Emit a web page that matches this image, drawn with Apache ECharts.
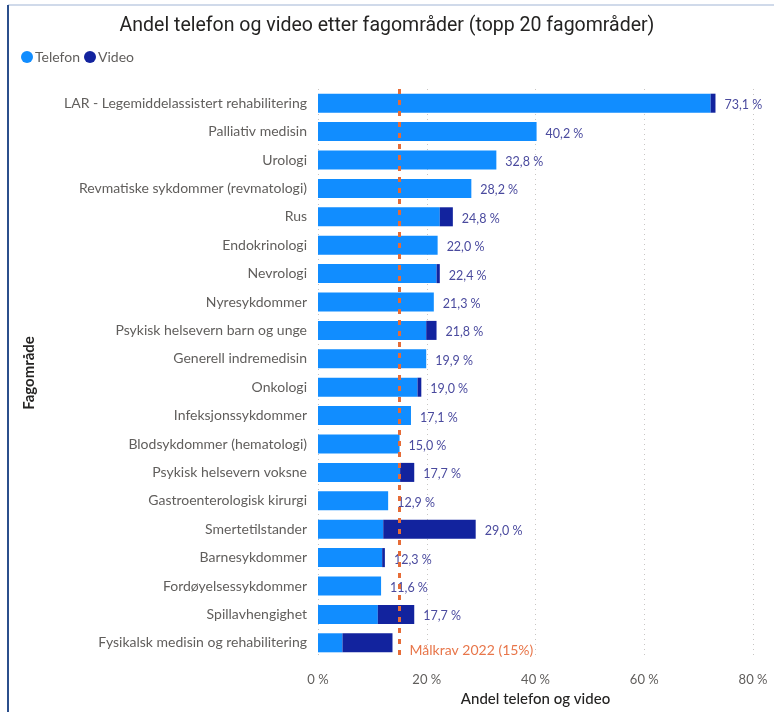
<!DOCTYPE html>
<html>
<head>
<meta charset="utf-8">
<script src="https://cdn.jsdelivr.net/npm/echarts@6/dist/echarts.min.js"></script>
<style>
  html, body { margin: 0; padding: 0; background: #fff; }
  #chart { width: 774px; height: 712px; }
</style>
</head>
<body>
<div id="chart"></div>
<script>
// fagområder, øverst først
const categories = [
  'LAR - Legemiddelassistert rehabilitering',
  'Palliativ medisin',
  'Urologi',
  'Revmatiske sykdommer (revmatologi)',
  'Rus',
  'Endokrinologi',
  'Nevrologi',
  'Nyresykdommer',
  'Psykisk helsevern barn og unge',
  'Generell indremedisin',
  'Onkologi',
  'Infeksjonssykdommer',
  'Blodsykdommer (hematologi)',
  'Psykisk helsevern voksne',
  'Gastroenterologisk kirurgi',
  'Smertetilstander',
  'Barnesykdommer',
  'Fordøyelsessykdommer',
  'Spillavhengighet',
  'Fysikalsk medisin og rehabilitering'
];
const telefon = [72.2, 40.2, 32.8, 28.2, 22.4, 22.0, 21.8, 21.3, 19.9, 19.9, 18.3, 17.1, 15.0, 15.1, 12.9, 12.0, 11.8, 11.6, 11.0, 4.5];
const video   = [0.9, 0.0, 0.0, 0.0, 2.4, 0.0, 0.6, 0.0, 1.9, 0.0, 0.7, 0.0, 0.0, 2.6, 0.0, 17.0, 0.5, 0.0, 6.7, 9.2];
const xTicks = [0, 20, 40, 60, 80];
const maalkrav = 15;

const font = "'Segoe UI', Lato, 'Noto Sans', sans-serif";
const fmt = v => v.toFixed(1).replace('.', ',') + ' %';

const chart = echarts.init(document.getElementById('chart'));

const videoData = video.map((v, i) => {
  const item = { value: v };
  // siste rad har ingen etikett (skjules av målkrav-teksten)
  if (i === categories.length - 1) item.label = { show: false };
  return item;
});

const option = {
  animation: false,
  title: {
    text: 'Andel telefon og video etter fagområder (topp 20 fagområder)',
    left: 'center',
    top: 11,
    textStyle: {
      fontFamily: "'DIN', 'Liberation Sans Narrow', 'Roboto', sans-serif",
      fontSize: 19.5,
      fontWeight: 'normal',
      color: '#252423'
    }
  },
  legend: {
    left: 16,
    top: 45,
    icon: 'circle',
    itemWidth: 12,
    itemHeight: 12,
    itemGap: 4,
    textStyle: { fontFamily: font, fontSize: 14, color: '#605E5C', padding: [0, 0, 0, -3] },
    data: ['Telefon', 'Video']
  },
  grid: { left: 318, right: 21, top: 89, bottom: 48, containLabel: false },
  xAxis: {
    type: 'value',
    min: xTicks[0],
    max: xTicks[xTicks.length - 1],
    interval: 20,
    name: 'Andel telefon og video',
    nameLocation: 'middle',
    nameGap: 35,
    nameTextStyle: { fontFamily: font, fontSize: 15, color: '#252423', fontWeight: 500 },
    axisLine: { show: false },
    axisTick: { show: false },
    axisLabel: { fontFamily: font, fontSize: 13, color: '#605E5C', margin: 16, formatter: v => v + ' %' },
    splitLine: { show: true, lineStyle: { type: [1, 4], color: '#C8C6C4', width: 1 } }
  },
  yAxis: {
    type: 'category',
    inverse: true,
    data: categories,
    name: 'Fagområde',
    nameLocation: 'middle',
    nameGap: 281,
    nameRotate: 90,
    nameTextStyle: { fontFamily: font, fontSize: 15, color: '#252423', fontWeight: 'bold' },
    axisLine: { show: false },
    axisTick: { show: false },
    axisLabel: { fontFamily: font, fontSize: 14, color: '#605E5C', margin: 11 }
  },
  series: [
    {
      name: 'Telefon',
      type: 'bar',
      stack: 'total',
      data: telefon,
      barCategoryGap: '33%',
      itemStyle: { color: '#118DFF' },
      markLine: {
        silent: true,
        symbol: 'none',
        lineStyle: { color: '#E66C37', type: [5, 6], width: 3 },
        label: { show: false },
        data: [{ xAxis: maalkrav }]
      },
      markPoint: {
        silent: true,
        symbol: 'circle',
        symbolSize: 0,
        label: {
          show: true,
          position: 'right',
          offset: [5, 8],
          formatter: 'Målkrav 2022 (15%)',
          fontFamily: font,
          fontSize: 14,
          color: '#E8764A'
        },
        data: [{ coord: [maalkrav, categories[categories.length - 1]] }]
      }
    },
    {
      name: 'Video',
      type: 'bar',
      stack: 'total',
      data: videoData,
      itemStyle: { color: '#12239E' },
      label: {
        show: true,
        position: 'right',
        distance: 9,
        offset: [0, 2],
        fontFamily: font,
        fontSize: 12.5,
        color: '#4A4A9E',
        formatter: p => fmt(telefon[p.dataIndex] + video[p.dataIndex])
      }
    }
  ],
  graphic: [
    { type: 'line', shape: { x1: 8, y1: 5, x2: 774, y2: 5 }, style: { stroke: '#D0DAEA', lineWidth: 2 } },
    { type: 'line', shape: { x1: 8, y1: 5, x2: 8, y2: 712 }, style: { stroke: '#2B4F8C', lineWidth: 2 } }
  ]
};

chart.setOption(option);
</script>
</body>
</html>
